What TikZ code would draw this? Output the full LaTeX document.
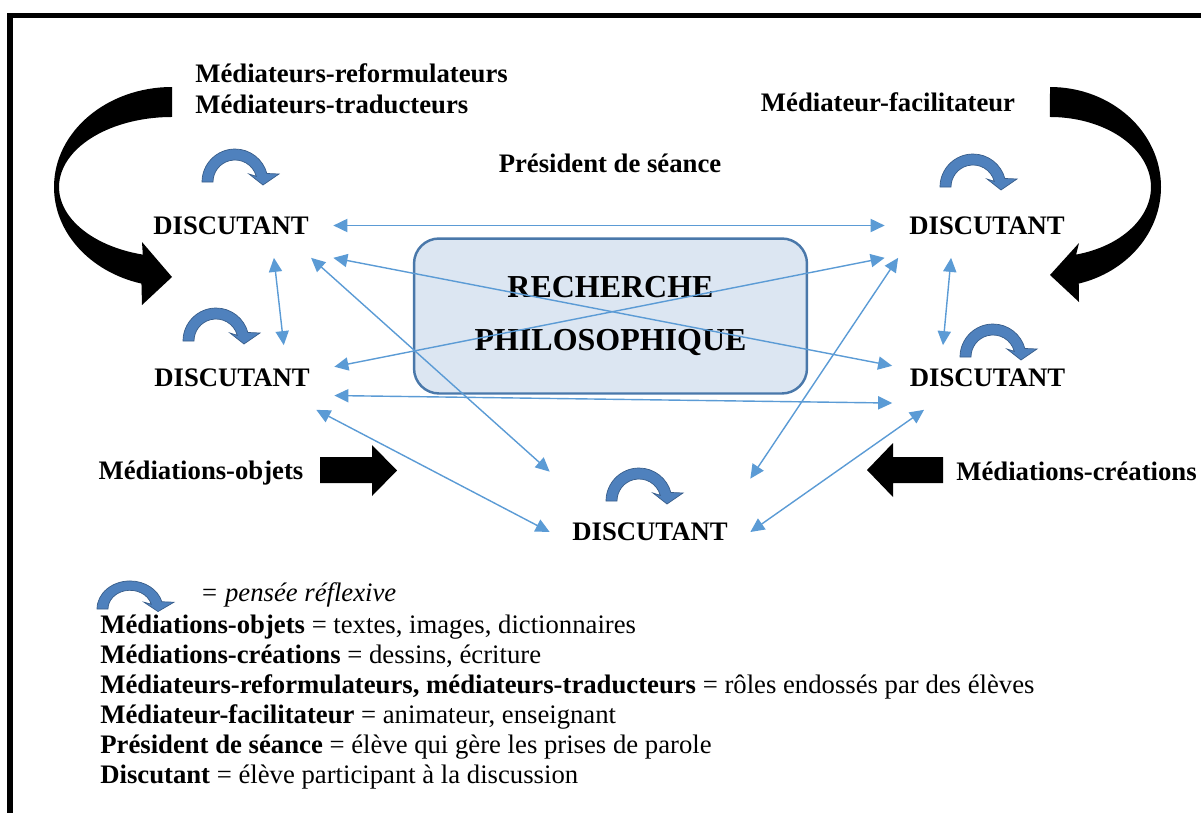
\documentclass[tikz,border=0pt]{standalone}
\usepackage{fontspec}
\setmainfont{Liberation Serif}
\usetikzlibrary{arrows.meta}
\definecolor{bleulien}{HTML}{5B9BD5}
\definecolor{bleufond}{HTML}{DCE6F2}
\definecolor{bleubord}{HTML}{4A78AA}
\definecolor{bleuboucle}{HTML}{4F81BD}
\definecolor{bleusombre}{HTML}{385D8A}

\tikzset{
    reflexe/.pic={
        \filldraw[bleuboucle, draw=bleusombre, line width=0.4pt]
            (-33,0) arc[start angle=180, end angle=15, radius=33]
            -- (44,8) -- (28,-3) -- (14,8) -- (15:22)
            arc[start angle=15, end angle=180, radius=22] -- cycle;
    },
    discutant/.style={font=\bfseries\fontsize{15.2}{17}\selectfont, inner sep=0pt,
        minimum width=4.08cm, minimum height=1.28cm},
    etiquette/.style={font=\bfseries\fontsize{15.2}{17.6}\selectfont, inner sep=0pt},
    legende/.style={font=\fontsize{15.2}{17.07}\selectfont, inner sep=0pt},
    lien/.style={bleulien, line width=0.8pt,
        {Triangle[length=8pt, width=7.5pt]}-{Triangle[length=8pt, width=7.5pt]}},
}

\begin{document}
\begin{tikzpicture}[x=0.02cm, y=0.02cm]
    \useasboundingbox (0,0) rectangle (1201,-812);
    \clip (0,0) rectangle (1201,-812);
    % cadre
    \draw[line width=0.11cm] (10,-15.5) rectangle (1250,-850);

    % recherche au centre
    \node[draw=bleubord, fill=bleufond, line width=1.4pt, rounded corners=0.5cm,
        minimum width=7.86cm, minimum height=3.1cm, align=center,
        font=\bfseries\fontsize{18.2}{30.7}\selectfont] (rp) at (610.5,-316)
        {RECHERCHE\\PHILOSOPHIQUE};

    % les discutants
    \node[discutant] (tl) at (231,-225.5) {DISCUTANT};
    \node[discutant] (tr) at (987,-225.5) {DISCUTANT};
    \node[discutant] (ml) at (232,-377.5) {DISCUTANT};
    \node[discutant, minimum width=3.8cm] (mr) at (987.5,-377.5) {DISCUTANT};
    \node[discutant, minimum width=4cm, minimum height=2.4cm] (b) at (650,-532) {DISCUTANT};

    \pic at (235,-182) {reflexe};
    \pic at (973,-187) {reflexe};
    \pic at (216,-341) {reflexe};
    \pic at (993,-357) {reflexe};
    \pic at (639,-501) {reflexe};

    \draw[lien] (tl.east) -- (tr.west);
    \draw[lien] (tl.south east) -- (mr.173);
    \draw[lien] (tl.-22) -- (b.north west);
    \draw[lien] (tl.-37) -- (ml.32);
    \draw[lien] (ml.6) -- (tr.south west);
    \draw[lien] (ml.-10) -- (mr.-165);
    \draw[lien] (ml.-21) -- (b.west);
    \draw[lien] (tr.-160) -- (b.28);
    \draw[lien] (tr.-138) -- (mr.144);
    \draw[lien] (mr.-153) -- (b.east);

    % mediateurs
    \node[etiquette, anchor=north west, align=left] (medtrad) at (195,-63)
        {Médiateurs-reformulateurs\\Médiateurs-traducteurs};
    \node[etiquette, anchor=base] (facil) at (888,-111) {Médiateur-facilitateur};
    \node[etiquette, anchor=base] (pres) at (610,-172) {Président de séance};
    \node[etiquette, anchor=base] (medobj) at (201,-479) {Médiations-objets};
    \node[etiquette, anchor=base] (medcre) at (1076.5,-480) {Médiations-créations};

    \fill (172,-87) arc[start angle=90, end angle=255, x radius=118, y radius=100]
        -- (142,-305) -- (172,-277) -- (142,-242) -- (142.8,-254.6)
        arc[start angle=255, end angle=90, x radius=113, y radius=70] -- cycle;
    \fill (1050,-87) arc[start angle=90, end angle=-75, x radius=111, y radius=100]
        -- (1079,-302) -- (1050,-275) -- (1079,-243) -- (1076.1,-254.6)
        arc[start angle=-75, end angle=90, x radius=101, y radius=70] -- cycle;

    \fill (320,-457) -- (372,-457) -- (372,-445) -- (397,-470.5) -- (372,-496)
        -- (372,-483) -- (320,-483) -- cycle;
    \fill (943,-457) -- (893,-457) -- (893,-443) -- (867,-470) -- (893,-497)
        -- (893,-483) -- (943,-483) -- cycle;

    % legende
    \pic[yscale=0.85] at (130,-609) {reflexe};
    \node[legende, anchor=base west] (pensee) at (200,-601) {\itshape = pensée réflexive};
    \node[legende, anchor=north west, align=left] (leg) at (100,-615)
        {\textbf{Médiations-objets} = textes, images, dictionnaires\\
         \textbf{Médiations-créations} = dessins, écriture\\
         \textbf{Médiateurs-reformulateurs, médiateurs-traducteurs} = rôles endossés par des élèves\\
         \textbf{Médiateur-facilitateur} = animateur, enseignant\\
         \textbf{Président de séance} = élève qui gère les prises de parole\\
         \textbf{Discutant} = élève participant à la discussion};
\end{tikzpicture}
\end{document}
